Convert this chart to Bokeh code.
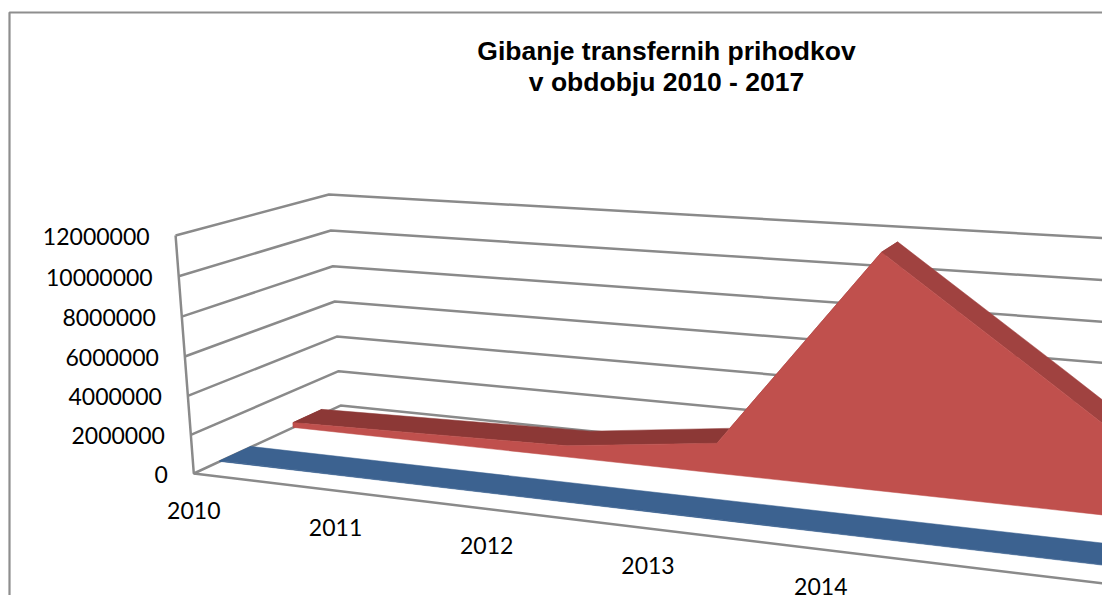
from itertools import groupby

from bokeh.plotting import figure
from bokeh.models import Range1d
from bokeh.core.properties import value
from bokeh.embed import file_html
from bokeh.resources import INLINE

title_lines = ["Gibanje transfernih prihodkov", "v obdobju 2010 - 2017"]
years = [2010, 2011, 2012, 2013, 2014, 2015, 2016, 2017]
value_ticks = [0, 2000000, 4000000, 6000000, 8000000, 10000000, 12000000]
# the last years lie outside the visible crop and are estimates
red_values = [270000, 430000, 600000, 1550000, 11600000, 6000000, 300000, 300000]
blue_values = [30000, 30000, 30000, 30000, 30000, 30000, 30000, 30000]

# depth slots of the two series on the floor (0 = front, 1 = back)
BLUE_DEPTH = (0.16, 0.36)
RED_DEPTH = (0.65, 0.86)

GRID = "#8A8A8A"
RED_FRONT = "#C0504D"
RED_TOP = "#8C3836"
RED_TOP_DOWN = "#A04240"
BLUE_TOP = "#3C6290"
BLUE_FRONT = "#3C6290"
TEXT = "#000000"


def project(t, v, d):
    """Perspective projection of (category index, value, depth) to the figure's coordinates."""
    m = v / 1e6
    w = 1 - 0.0309 * t - 0.00275 * m + 0.134 * d
    x = (193.3 + 131.4 * t - 2.0 * m + 192.3 * d) / w
    y = (473 + 2.0 * t - 20.48 * m - 13.7 * d) / w
    return x, y


W, H = 1102, 595
p = figure(width=W, height=H, x_range=Range1d(0, W), y_range=Range1d(H, 0),
           output_backend="svg", toolbar_location=None, min_border=0,
           outline_line_color=None)
p.axis.visible = False
p.grid.visible = False
p.background_fill_color = "#FFFFFF"
p.border_fill_color = "#FFFFFF"

# chart-area border
p.line([9, 9, W], [H, 12, 12], line_color="#8E8E8E", line_width=2.2)

last = len(years) - 1
# walls: gridlines run along the side wall and the back wall
for v in value_ticks:
    pts = [project(0, v, 0), project(0, v, 1), project(last, v, 1)]
    p.line([a[0] for a in pts], [a[1] for a in pts], line_color=GRID, line_width=2.5)
# front vertical axis and front floor edge
pts = [project(0, value_ticks[-1], 0), project(0, 0, 0), project(last, 0, 0)]
p.line([a[0] for a in pts], [a[1] for a in pts], line_color=GRID, line_width=2.5)


def area(vals, depth, top_colors, front_color):
    d0, d1 = depth
    n = len(vals)
    # left end cap
    q = [project(0, vals[0], d0), project(0, vals[0], d1), project(0, 0, d1), project(0, 0, d0)]
    p.patch([a[0] for a in q], [a[1] for a in q], fill_color=top_colors[0], line_color=top_colors[0], line_width=0.5)
    # top surface, one polygon per run of rising or falling segments
    for up, run in groupby(range(n - 1), key=lambda i: vals[i + 1] >= vals[i]):
        idx = list(run)
        idx = idx + [idx[-1] + 1]
        q = [project(i, vals[i], d0) for i in idx] + [project(i, vals[i], d1) for i in reversed(idx)]
        c = top_colors[0] if up else top_colors[1]
        p.patch([a[0] for a in q], [a[1] for a in q], fill_color=c, line_color=c, line_width=0.5)
    # front face
    top = [project(i, vals[i], d0) for i in range(n)]
    base = [project(i, 0, d0) for i in reversed(range(n))]
    p.patch([a[0] for a in top + base], [a[1] for a in top + base],
            fill_color=front_color, line_color=front_color, line_width=0.5)


area(red_values, RED_DEPTH, (RED_TOP, RED_TOP_DOWN), RED_FRONT)
area(blue_values, BLUE_DEPTH, (BLUE_TOP, BLUE_TOP), BLUE_FRONT)

# value-axis labels
lab = [project(0, v, 0) for v in value_ticks]
p.text([a[0] for a in lab], [a[1] + 1 for a in lab], text=[str(v) for v in value_ticks],
       x_offset=-26, text_align="right", text_baseline="middle",
       text_font=value("Lato"), text_font_size="23px", text_color=TEXT)

# category labels (only those that fall inside the picture)
cat = [(project(i, 0, 0), str(y)) for i, y in enumerate(years)]
cat = [c for c in cat if c[0][1] + 37 < H and c[0][0] < W]
p.text([c[0][0] for c in cat], [c[0][1] + 37 for c in cat], text=[c[1] for c in cat],
       text_align="center", text_baseline="middle",
       text_font=value("Lato"), text_font_size="23px", text_color=TEXT)

# title
p.text([666, 666], [50, 81], text=title_lines, text_align="center", text_baseline="middle",
       text_font=value("Liberation Sans"), text_font_style="bold",
       text_font_size="26.5px", text_color=TEXT)

open("out.html", "w").write(file_html(p, INLINE))
